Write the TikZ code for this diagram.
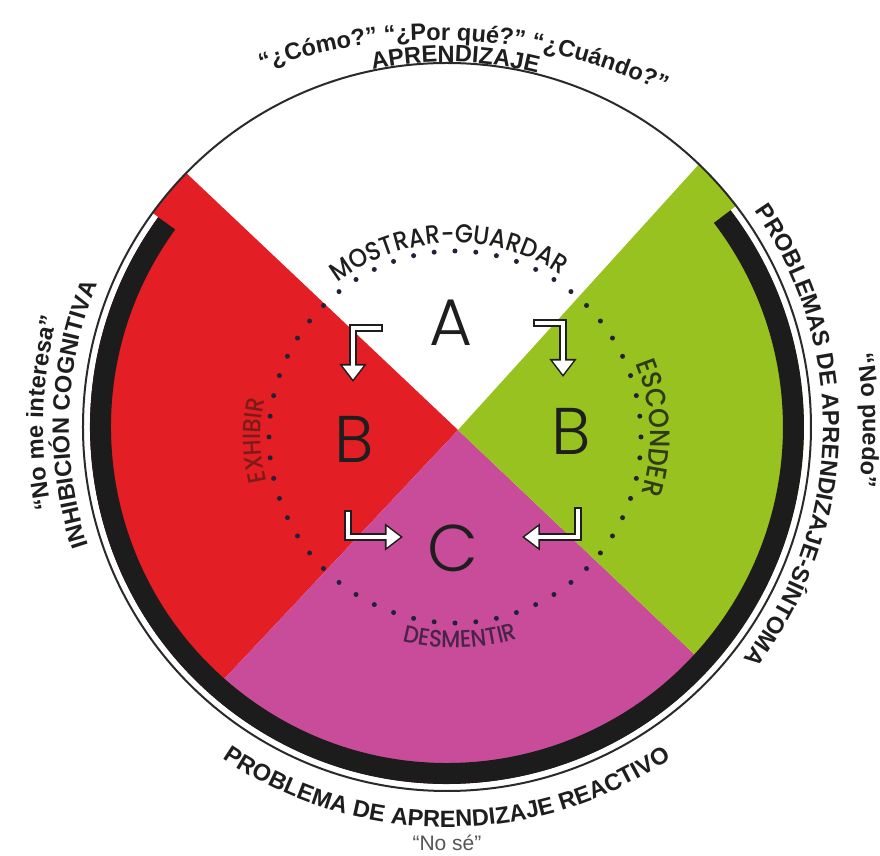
\documentclass[tikz,border=0pt]{standalone}
\usepackage{fontspec}
\setmainfont{Liberation Sans}
\newfontfamily\geofont[FakeStretch=0.9]{Poppins Medium}
\newfontfamily\geolight{Poppins Light}
\usetikzlibrary{arrows.meta, calc, decorations.text}
\definecolor{Ink}      {HTML}{1E1E1E}
\definecolor{Rim}      {HTML}{2A2A2A}
\definecolor{Band}     {HTML}{1C1C1C}
\definecolor{SecRed}   {HTML}{E31E24}
\definecolor{SecGreen} {HTML}{97C21F}
\definecolor{SecPink}  {HTML}{C94C9A}
\definecolor{DotInk}   {HTML}{22203A}
\definecolor{ExhRed}   {HTML}{7E1A1A}
\definecolor{EscGreen} {HTML}{2E3A18}
\definecolor{DesPurple}{HTML}{4A2448}
\definecolor{NoseGray} {HTML}{555555}
\newcommand{\outerfont}{\bfseries\fontsize{11.8}{14}\selectfont}
\newcommand{\innerfont}[1]{\geofont\fontsize{#1}{#1}\selectfont}

\begin{document}
\begin{tikzpicture}[x=0.5pt, y=0.5pt,
  arctext/.style={decorate, decoration={text along path, text align=center, text={#1}}},
  bigletter/.style={font=\geolight\fontsize{33}{36}\selectfont, text=Ink, inner sep=0pt},
  arrback/.style={draw=Ink, line width=3.6pt, line join=miter,
                  -{Triangle[length=9pt, width=13pt]}},
  arrfront/.style={draw=white, line width=2pt, line join=miter,
                   shorten <=0.8pt, shorten >=1.3pt,
                   -{Triangle[length=6.9pt, width=10pt]}},
]
  \fill[white] (-447,-429) rectangle (433,427);
  \useasboundingbox (-447,-429) rectangle (433,427);

  \coordinate (o) at (0,0);
  \coordinate (m) at (11,-3);
  \coordinate (d) at (8,-10);
  \coordinate (q) at (-11,-132);

  % four sectors
  \begin{scope}
    \clip (o) circle (364);
    \fill[SecRed]   (m) -- +(136.6:800) -- +(181.7:800) -- +(226.8:800) -- cycle;
    \fill[SecPink]  (m) -- +(226.8:800) -- +(271.6:800) -- +(316.5:800) -- cycle;
    \fill[SecGreen] (m) -- +(316.5:800) -- +(362.2:800) -- +(407.8:800) -- cycle;
  \end{scope}

  % black band and rim
  \draw[white, line width=3.5pt] (144:360.5) arc[start angle=144, end angle=397.4, radius=360.5];
  \draw[Band, line width=10.5pt] (144:346.5) arc[start angle=144, end angle=397.4, radius=346.5];
  \draw[Rim, line width=1pt] (o) circle (364);

  % dotted ring
  \foreach \i in {0,...,55}
    \fill[DotInk] ($(d)+(\i*6.42857:186)$) circle (2.5);

  % letters
  \node[bigletter] (a)  at (4,104)   {A};
  \node[bigletter] (bl) at (-93,-12) {B};
  \node[bigletter] (br) at (124,-4)  {B};
  \node[bigletter] (c)  at (6,-121)  {C};

  % inner labels
  \path[arctext={|\innerfont{13}|MOSTRAR-GUARDAR}, decoration={text color=Ink}]
    ($(d)+(137:194)$) arc[start angle=137, end angle=47, radius=194];
  \path[arctext={|\innerfont{14}|ESCONDER}, decoration={text color=EscGreen}]
    ($(d)+(32.7:195)$) arc[start angle=32.7, end angle=-27.3, radius=195];
  \path[arctext={|\innerfont{12.5}|EXHIBIR}, decoration={text color=ExhRed}]
    ($(d)+(201:194)$) arc[start angle=201, end angle=161, radius=194];
  \path[arctext={|\innerfont{12}|DESMENTIR}, decoration={text color=DesPurple}]
    ($(d)+(246.4:211)$) arc[start angle=246.4, end angle=296.4, radius=211];

  % arrows
  \coordinate (al0) at (-64,99);  \coordinate (al1) at (-94,99);  \coordinate (al2) at (-94,45);
  \coordinate (ar0) at (86,104);  \coordinate (ar1) at (116,104); \coordinate (ar2) at (116,50);
  \coordinate (bl0) at (-99,-83); \coordinate (bl1) at (-99,-110); \coordinate (bl2) at (-44,-110);
  \coordinate (br0) at (131,-80); \coordinate (br1) at (131,-110); \coordinate (br2) at (75,-110);
  \foreach \p in {al,ar,bl,br} {
    \draw[arrback]  (\p0) -- (\p1) -- (\p2);
    \draw[arrfront] (\p0) -- (\p1) -- (\p2);
  }

  % outer labels
  \path[arctext={|\outerfont|“¿Cómo?” “¿Por qué?” “¿Cuándo?”}, decoration={text color=Ink}]
    ($(q)+(121.8:519)$) arc[start angle=121.8, end angle=51.8, radius=519];
  \path[arctext={|\outerfont|APRENDIZAJE}, decoration={text color=Ink}]
    (118.7:365) arc[start angle=118.7, end angle=58.7, radius=365];
  \path[arctext={|\outerfont|INHIBICIÓN COGNITIVA}, decoration={text color=Ink}]
    (208:378) arc[start angle=208, end angle=148, radius=378];
  \path[arctext={|\outerfont|“No me interesa”}, decoration={text color=Ink}]
    (208:404) arc[start angle=208, end angle=148, radius=404];
  \path[arctext={|\outerfont|PROBLEMAS DE APRENDIZAJE-SÍNTOMA}, decoration={text color=Ink}]
    (48.5:376) arc[start angle=48.5, end angle=-51.5, radius=376];
  \path[arctext={|\outerfont|“No puedo”}, decoration={text color=Ink}]
    (30.9:416) arc[start angle=30.9, end angle=-29.1, radius=416];
  \path[arctext={|\outerfont|PROBLEMA DE APRENDIZAJE REACTIVO}, decoration={text color=Ink}]
    (225:400) arc[start angle=225, end angle=315, radius=400];
  \node[font=\fontsize{10.5}{12}\selectfont, text=NoseGray] (nose) at (0,-416) {“No sé”};
\end{tikzpicture}
\end{document}
